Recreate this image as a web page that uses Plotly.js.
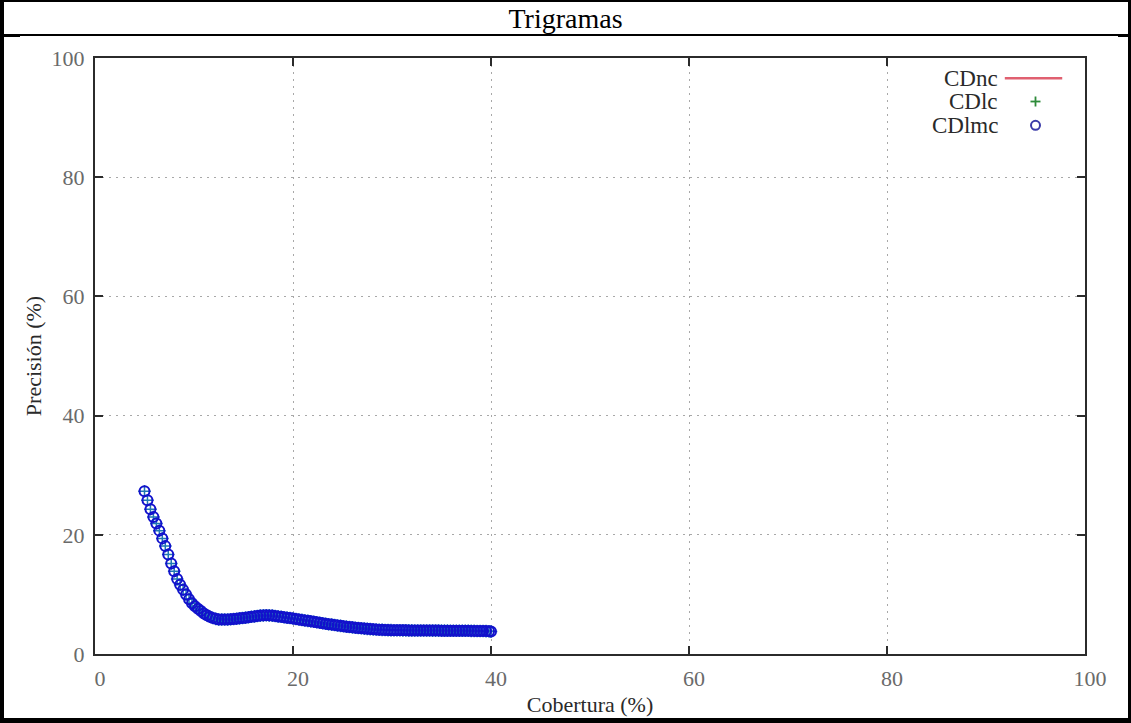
<!DOCTYPE html>
<html>
<head>
<meta charset="utf-8">
<script src="https://cdn.plot.ly/plotly-3.0.1.min.js"></script>
<style>
  html, body { margin: 0; padding: 0; background: #fff; }
  #wrap { position: relative; width: 1131px; height: 723px; overflow: hidden; }
  #chart { position: absolute; left: 0; top: 0; width: 1131px; height: 723px; }
  .rule { position: absolute; background: #000; pointer-events: none; }
</style>
</head>
<body>
<div id="wrap">
  <div id="chart"></div>
  <!-- table frame around the figure -->
  <div class="rule" style="left:0;top:0;width:1131px;height:2px;"></div>
  <div class="rule" style="left:0;top:0;width:4px;height:723px;"></div>
  <div class="rule" style="right:0;top:0;width:3px;height:723px;"></div>
  <div class="rule" style="left:0;bottom:0;width:1131px;height:5px;"></div>
  <div class="rule" style="left:0;top:34px;width:1131px;height:2px;"></div>
  <div class="rule" style="left:0;top:34px;width:20px;height:3px;"></div>
  <div class="rule" style="left:1118px;top:34px;width:13px;height:3px;"></div>
</div>
<script>
// Coverage (%) and precision (%) of the trigram classifiers
const cobertura = [
  5.0, 5.3, 5.6, 5.9, 6.2, 6.5, 6.8, 7.1, 7.4, 7.7,
  8.0, 8.3, 8.6, 8.9, 9.2, 9.5, 9.8, 10.1, 10.4, 10.7,
  11.0, 11.3, 11.6, 11.9, 12.2, 12.5, 12.8, 13.1, 13.4, 13.7,
  14.0, 14.3, 14.6, 14.9, 15.2, 15.5, 15.8, 16.1, 16.4, 16.7,
  17.0, 17.3, 17.6, 17.9, 18.2, 18.5, 18.8, 19.1, 19.4, 19.7,
  20.0, 20.3, 20.6, 20.9, 21.2, 21.5, 21.8, 22.1, 22.4, 22.7,
  23.0, 23.3, 23.6, 23.9, 24.2, 24.5, 24.8, 25.1, 25.4, 25.7,
  26.0, 26.3, 26.6, 26.9, 27.2, 27.5, 27.8, 28.1, 28.4, 28.7,
  29.0, 29.3, 29.6, 29.9, 30.2, 30.5, 30.8, 31.1, 31.4, 31.7,
  32.0, 32.3, 32.6, 32.9, 33.2, 33.5, 33.8, 34.1, 34.4, 34.7,
  35.0, 35.3, 35.6, 35.9, 36.2, 36.5, 36.8, 37.1, 37.4, 37.7,
  38.0, 38.3, 38.6, 38.9, 39.2, 39.5, 39.8, 40.0
];
const precision = [
  27.3, 25.8, 24.3, 23.0, 21.9, 20.7, 19.4, 18.1, 16.7, 15.2,
  13.9, 12.6, 11.6, 10.8, 10.0, 9.2, 8.5, 8.0, 7.6, 7.2,
  6.8, 6.5, 6.25, 6.05, 5.9, 5.8, 5.78, 5.78, 5.8, 5.83,
  5.87, 5.92, 5.98, 6.04, 6.1, 6.17, 6.24, 6.31, 6.38, 6.44,
  6.48, 6.5, 6.48, 6.44, 6.38, 6.31, 6.24, 6.17, 6.1, 6.03,
  5.96, 5.88, 5.8, 5.72, 5.64, 5.56, 5.48, 5.4, 5.32, 5.24,
  5.16, 5.08, 5.0, 4.93, 4.86, 4.79, 4.72, 4.65, 4.59, 4.53,
  4.47, 4.41, 4.36, 4.31, 4.26, 4.22, 4.18, 4.14, 4.11, 4.08,
  4.05, 4.03, 4.01, 4.0, 3.99, 3.98, 3.98, 3.97, 3.97, 3.96,
  3.96, 3.95, 3.95, 3.95, 3.94, 3.94, 3.94, 3.93, 3.93, 3.93,
  3.92, 3.92, 3.92, 3.91, 3.91, 3.9, 3.9, 3.9, 3.89, 3.89,
  3.88, 3.88, 3.87, 3.86, 3.85, 3.84, 3.81, 3.76
];
const seriesNames = ['CDnc', 'CDlc', 'CDlmc'];
const xTicks = [0, 20, 40, 60, 80, 100];
const yTicks = [0, 20, 40, 60, 80, 100];

const serif = 'Liberation Serif, Times New Roman, serif';

const traces = [
  {
    x: cobertura, y: precision, name: seriesNames[1],
    type: 'scatter', mode: 'markers',
    marker: { symbol: 'cross-thin-open', size: 9, line: { color: '#1a3a5a', width: 1.5 } },
    hoverinfo: 'x+y'
  },
  {
    x: cobertura, y: precision, name: seriesNames[2],
    type: 'scatter', mode: 'markers',
    marker: { symbol: 'circle-open', size: 10, color: '#1212cc', line: { color: '#1212cc', width: 2 } },
    hoverinfo: 'x+y'
  }
];

const axisCommon = {
  range: [0, 100],
  showline: true, mirror: 'ticks', linecolor: '#2b2b2b', linewidth: 2,
  ticks: 'inside', ticklen: 8, tickwidth: 2, tickcolor: '#2b2b2b',
  showgrid: true, gridcolor: '#a8a8a8', gridwidth: 1, griddash: '2px,5px',
  zeroline: false, fixedrange: true,
  tickfont: { family: serif, size: 22, color: '#6a6a6a' }
};

// legend keys sit to the right of their labels
const legendY = [0.966, 0.927, 0.887];
const legendTextX = 0.914;
const legendKeyX = 0.95;

const annotations = seriesNames.map((n, i) => ({
  xref: 'paper', yref: 'paper', x: legendTextX, y: legendY[i],
  xanchor: 'right', yanchor: 'middle', text: n, showarrow: false,
  font: { family: serif, size: 23, color: '#2a2a2a' }
}));

const shapes = [
  // CDnc key: red line
  { type: 'line', xref: 'paper', yref: 'paper', x0: 0.919, x1: 0.977, y0: legendY[0], y1: legendY[0],
    line: { color: '#e06070', width: 2.5 } },
  // CDlc key: green plus
  { type: 'line', xref: 'paper', yref: 'paper', xsizemode: 'pixel', ysizemode: 'pixel',
    xanchor: legendKeyX, yanchor: legendY[1], x0: -5, x1: 5, y0: 0, y1: 0,
    line: { color: '#2e8b3a', width: 1.8 } },
  { type: 'line', xref: 'paper', yref: 'paper', xsizemode: 'pixel', ysizemode: 'pixel',
    xanchor: legendKeyX, yanchor: legendY[1], x0: 0, x1: 0, y0: -5, y1: 5,
    line: { color: '#2e8b3a', width: 1.8 } },
  // CDlmc key: blue circle
  { type: 'circle', xref: 'paper', yref: 'paper', xsizemode: 'pixel', ysizemode: 'pixel',
    xanchor: legendKeyX, yanchor: legendY[2], x0: -4.5, x1: 4.5, y0: -4.5, y1: 4.5,
    line: { color: '#3a3aa8', width: 2 } }
];

const layout = {
  width: 1131, height: 723,
  margin: { l: 95, r: 46, t: 58, b: 69, pad: 0 },
  paper_bgcolor: '#ffffff', plot_bgcolor: '#ffffff',
  showlegend: false,
  title: {
    text: 'Trigramas', x: 0.5, xanchor: 'center', y: 1 - 18 / 723, yanchor: 'middle', yref: 'container',
    font: { family: serif, size: 28, color: '#000' }
  },
  xaxis: Object.assign({}, axisCommon, {
    tickvals: xTicks, ticktext: xTicks.map(String), ticklabelstandoff: 4, ticklabelshift: 5,
    title: { text: 'Cobertura (%)', standoff: 6, font: { family: serif, size: 22, color: '#2a2a2a' } }
  }),
  yaxis: Object.assign({}, axisCommon, {
    tickvals: yTicks, ticktext: yTicks.map(String), ticklabelstandoff: 4,
    title: { text: 'Precisión (%)', standoff: 4, font: { family: serif, size: 22, color: '#2a2a2a' } }
  }),
  annotations: annotations,
  shapes: shapes
};

Plotly.newPlot('chart', traces, layout, { displayModeBar: false, staticPlot: true });
</script>
</body>
</html>
